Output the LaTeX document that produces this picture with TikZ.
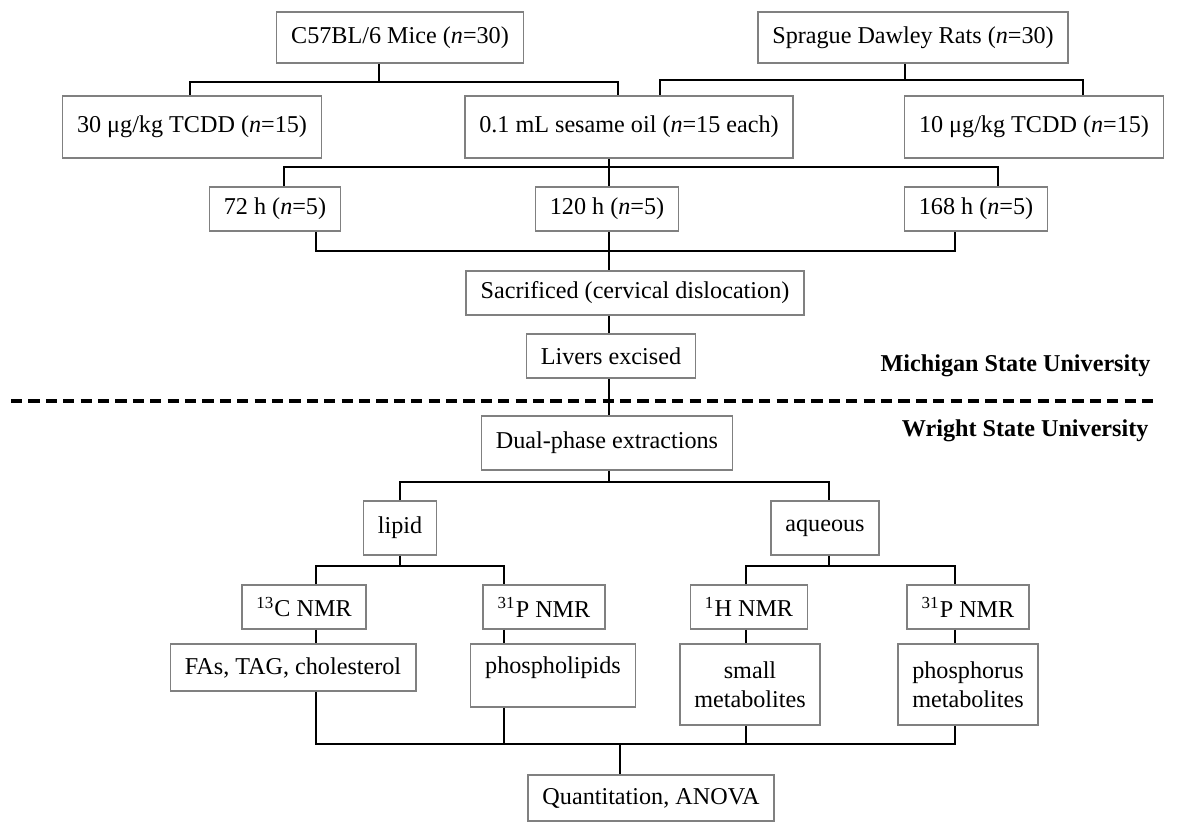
\documentclass[tikz,border=0pt]{standalone}
\usepackage{fontspec}
\setmainfont{Liberation Serif}
\usepackage{tikz}

\definecolor{boxgray}{RGB}{128,128,128}
\newlength{\pxu}
\setlength{\pxu}{0.4138pt}
\tikzset{
  box/.style={draw=boxgray, line width=0.65pt, inner xsep=6pt, inner ysep=0pt},
  link/.style={line width=0.9pt},
}

\begin{document}
\begin{tikzpicture}[x=0.4138pt, y=-0.4138pt]
\useasboundingbox (0,0) rectangle (1189,823);

\node[box, minimum height=51\pxu] (mice) at (400,37.5) {C57BL/6 Mice (\textit{n}=30)};
\node[box, minimum height=51\pxu] (rats) at (913,37.5) {Sprague Dawley Rats (\textit{n}=30)};
\node[box, minimum height=62\pxu] (tcddA) at (192,127) {30 μg/kg TCDD (\textit{n}=15)};
\node[box, minimum height=62\pxu] (oil) at (629,127) {0.1 mL sesame oil (\textit{n}=15 each)};
\node[box, minimum height=62\pxu] (tcddB) at (1034,127) {10 μg/kg TCDD (\textit{n}=15)};
\node[box, minimum height=44\pxu] (h72) at (275,209) {72 h (\textit{n}=5)};
\node[box, minimum height=44\pxu] (h120) at (607,209) {120 h (\textit{n}=5)};
\node[box, minimum height=44\pxu] (h168) at (976,209) {168 h (\textit{n}=5)};
\node[box, minimum height=44\pxu] (sacr) at (635,293) {Sacrificed (cervical dislocation)};
\node[box, minimum height=44\pxu] (livers) at (611,356) {Livers excised};
\node[box, minimum height=54\pxu] (extr) at (607,443) {Dual-phase extractions};
\node[box, minimum height=54\pxu] (lipid) at (400,528) {lipid};
\node[box, minimum height=54\pxu] (aq) at (825,528) {aqueous};
\node[box, minimum height=44\pxu] (cnmr) at (304,607) {\textsuperscript{13}C NMR};
\node[box, minimum height=44\pxu] (pnmrL) at (544,607) {\textsuperscript{31}P NMR};
\node[box, minimum height=44\pxu] (hnmr) at (749,607) {\textsuperscript{1}H NMR};
\node[box, minimum height=44\pxu] (pnmrA) at (968,607) {\textsuperscript{31}P NMR};
\node[box, minimum height=47\pxu] (fas) at (293,667.5) {FAs, TAG, cholesterol};
\node[box, minimum height=63\pxu, text depth=9pt] (phl) at (553,675.5) {phospholipids};
\node[box, minimum height=81\pxu, align=center] (small) at (750,684.5) {small\\metabolites};
\node[box, minimum height=81\pxu, align=center] (phos) at (968,684.5) {phosphorus\\metabolites};
\node[box, minimum height=46\pxu] (quant) at (651,798) {Quantitation, ANOVA};
\node[anchor=east, font=\bfseries] (msu) at (1159,366) {Michigan State University};
\node[anchor=east, font=\bfseries] (wsu) at (1157,431) {Wright State University};

% bars
\coordinate (mA) at (190,82);
\coordinate (mB) at (379,82);
\coordinate (mC) at (618,82);
\coordinate (rA) at (660,80);
\coordinate (rB) at (905,80);
\coordinate (rC) at (1083,80);
\coordinate (tA) at (284,167);
\coordinate (tS) at (609,167);
\coordinate (tB) at (998,167);
\coordinate (sA) at (316,251);
\coordinate (sB) at (955,251);
\coordinate (dA) at (400,482);
\coordinate (dB) at (829,482);
\coordinate (lA) at (316,566);
\coordinate (lB) at (504,566);
\coordinate (aA) at (746,566);
\coordinate (aB) at (955,566);
\coordinate (bA) at (316,744);
\coordinate (bQ) at (620,744);
\coordinate (bB) at (955,744);
\coordinate (divL) at (11,401);
\coordinate (divR) at (1158,401);

\draw[line width=2pt, dash pattern=on 4.6pt off 2.6pt] (divL) -- (divR);

\draw[link] (mice.south -| mB) -- (mB);
\draw[link] (tcddA.north -| mA) |- (mC) -- (oil.north -| mC);
\draw[link] (rats.south -| rB) -- (rB);
\draw[link] (oil.north -| rA) |- (rC) -- (tcddB.north -| rC);
\draw[link] (oil.south -| tS) -- (h120.north -| tS);
\draw[link] (h72.north -| tA) |- (tB) -- (h168.north -| tB);
\draw[link] (h72.south -| sA) |- (sB) -- (h168.south -| sB);
\draw[link] (h120.south -| tS) -- (sacr.north -| tS);
\draw[link] (sacr.south -| tS) -- (livers.north -| tS);
\draw[link] (livers.south -| tS) -- (extr.north -| tS);
\draw[link] (extr.south -| tS) -- (tS |- dA);
\draw[link] (lipid.north) |- (dB) -- (aq.north -| dB);
\draw[link] (lipid.south) -- (lipid.south |- lA);
\draw[link] (cnmr.north -| lA) |- (lB) -- (pnmrL.north -| lB);
\draw[link] (aq.south -| dB) -- (dB |- aA);
\draw[link] (hnmr.north -| aA) |- (aB) -- (pnmrA.north -| aB);
\draw[link] (cnmr.south -| lA) -- (fas.north -| lA);
\draw[link] (pnmrL.south -| lB) -- (phl.north -| lB);
\draw[link] (hnmr.south -| aA) -- (small.north -| aA);
\draw[link] (pnmrA.south -| aB) -- (phos.north -| aB);
\draw[link] (fas.south -| bA) |- (bB) -- (phos.south -| bB);
\draw[link] (phl.south -| lB) -- (lB |- bA);
\draw[link] (small.south -| aA) -- (aA |- bA);
\draw[link] (bQ) -- (quant.north -| bQ);

\end{tikzpicture}
\end{document}
